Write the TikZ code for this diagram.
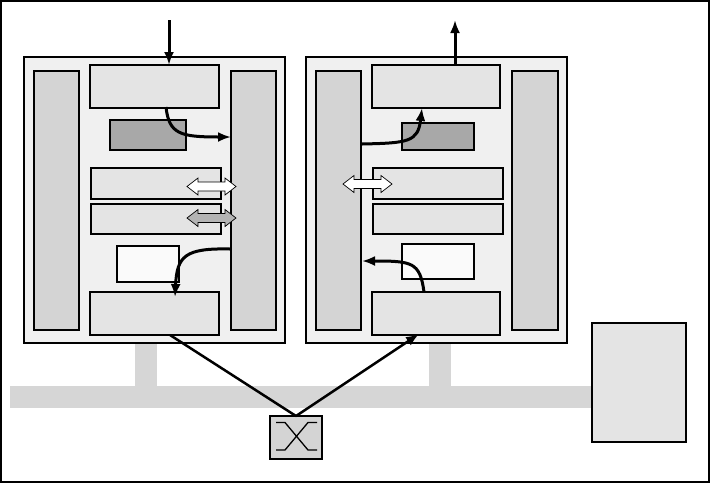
\documentclass[tikz,border=0pt]{standalone}
\usetikzlibrary{arrows.meta}
\definecolor{machbg}{HTML}{F0F0F0}
\definecolor{colgray}{HTML}{D4D4D4}
\definecolor{boxgray}{HTML}{E4E4E4}
\definecolor{darkgray}{HTML}{A8A8A8}
\definecolor{whitebox}{HTML}{FAFAFA}
\definecolor{busgray}{HTML}{D6D6D6}
\definecolor{arrgray}{HTML}{B4B4B4}
\tikzset{
  rbox/.style={draw=black, line width=1.2pt, anchor=north west, inner sep=0pt, outer sep=0pt},
  flow/.style={line width=3pt, -{Latex[length=13pt,width=10pt]}},
  link/.style={line width=2.5pt},
  dbl/.style={draw=black, line width=0.7pt},
}
\newcommand{\dblarr}[4]{% x1, x2, yc, fill
  \path[dbl, fill=#4] (#1,#3) -- (#1+11,#3-8.5) -- (#1+11,#3-4.5) -- (#2-11,#3-4.5) -- (#2-11,#3-8.5)
    -- (#2,#3) -- (#2-11,#3+8.5) -- (#2-11,#3+4.5) -- (#1+11,#3+4.5) -- (#1+11,#3+8.5) -- cycle;}
\begin{document}
\begin{tikzpicture}[x=1pt,y=-1pt]
\useasboundingbox (0,0) rectangle (710,483);
\draw[line width=1.6pt] (0.8,0.8) rectangle (709,482);
% bus
\fill[busgray] (10,386) rectangle (592,408);
\fill[busgray] (135,343) rectangle (157,386);
\fill[busgray] (429,343) rectangle (451,386);
% left machine
\node[rbox, fill=machbg, minimum width=261pt, minimum height=286pt] (LM) at (24,57) {};
\node[rbox, fill=colgray, minimum width=45pt, minimum height=259pt] (Lcl) at (34,71) {};
\node[rbox, fill=colgray, minimum width=45pt, minimum height=259pt] (Lcr) at (231,71) {};
\node[rbox, fill=boxgray, minimum width=129pt, minimum height=43pt] (Ltop) at (90,65) {};
\node[rbox, fill=darkgray, minimum width=76pt, minimum height=30pt] (Ldark) at (110,120) {};
\node[rbox, fill=boxgray, minimum width=130pt, minimum height=31pt] (Lb3) at (91,168) {};
\node[rbox, fill=boxgray, minimum width=130pt, minimum height=30pt] (Lb4) at (91,204) {};
\node[rbox, fill=whitebox, minimum width=62pt, minimum height=36pt] (Lwhite) at (117,246) {};
\node[rbox, fill=boxgray, minimum width=129pt, minimum height=43pt] (Lbot) at (90,292) {};
% right machine
\node[rbox, fill=machbg, minimum width=261pt, minimum height=286pt] (RM) at (306,57) {};
\node[rbox, fill=colgray, minimum width=45pt, minimum height=259pt] (Rcl) at (316,71) {};
\node[rbox, fill=colgray, minimum width=46pt, minimum height=259pt] (Rcr) at (512,71) {};
\node[rbox, fill=boxgray, minimum width=128pt, minimum height=43pt] (Rtop) at (372,65) {};
\node[rbox, fill=darkgray, minimum width=72pt, minimum height=27pt] (Rdark) at (402,123) {};
\node[rbox, fill=boxgray, minimum width=130pt, minimum height=31pt] (Rb3) at (373,168) {};
\node[rbox, fill=boxgray, minimum width=130pt, minimum height=30pt] (Rb4) at (373,204) {};
\node[rbox, fill=whitebox, minimum width=72pt, minimum height=35pt] (Rwhite) at (402,244) {};
\node[rbox, fill=boxgray, minimum width=128pt, minimum height=43pt] (Rbot) at (372,292) {};
% right standalone box
\node[rbox, fill=boxgray, minimum width=94pt, minimum height=119pt] (Ext) at (592,323) {};
% switch
\node[rbox, fill=colgray, minimum width=52pt, minimum height=43pt] (Sw) at (270,416) {};
\draw[line width=1.3pt] (276,422.5) -- (285,422.5) -- (308,450) -- (317,450);
\draw[line width=1.3pt] (317,422.5) -- (308,422.5) -- (285,450) -- (276,450);
% named endpoints
\coordinate (inTop) at (169,20);
\coordinate (outTop) at (455,20);
\coordinate (LtopOut) at (166,107);
\coordinate (LcrIn) at (231,137);
\coordinate (LcrOut) at (230,249);
\coordinate (LbotIn) at (175,297);
\coordinate (LbotLink) at (170,335);
\coordinate (RclOut) at (362,144);
\coordinate (RtopIn) at (422,108);
\coordinate (RbotOut) at (424,292);
\coordinate (RclIn) at (362,261);
\coordinate (RbotLink) at (419,334);
\coordinate (RtopOut) at (455,65);
\coordinate (LtopIn) at (169,65);
% links to switch
\draw[link] (LbotLink) -- (Sw.north);
\draw[link, -{Latex[length=13pt,width=10pt]}] (Sw.north) -- (RbotLink);
% flows
\draw[flow] (inTop) -- (LtopIn);
\draw[flow] (RtopOut) -- (outTop);
\draw[flow] (LtopOut) .. controls (169,134) and (180,137) .. (LcrIn);
\draw[flow] (LcrOut) .. controls (185,248) and (177,256) .. (LbotIn);
\draw[flow] (RclOut) .. controls (408,143) and (418,142) .. (RtopIn);
\draw[flow] (RbotOut) .. controls (420,262) and (412,261) .. (RclIn);
% double arrows
\dblarr{187}{236}{186.5}{white}
\dblarr{187}{236}{218}{arrgray}
\dblarr{343}{392}{184}{white}
\end{tikzpicture}
\end{document}
